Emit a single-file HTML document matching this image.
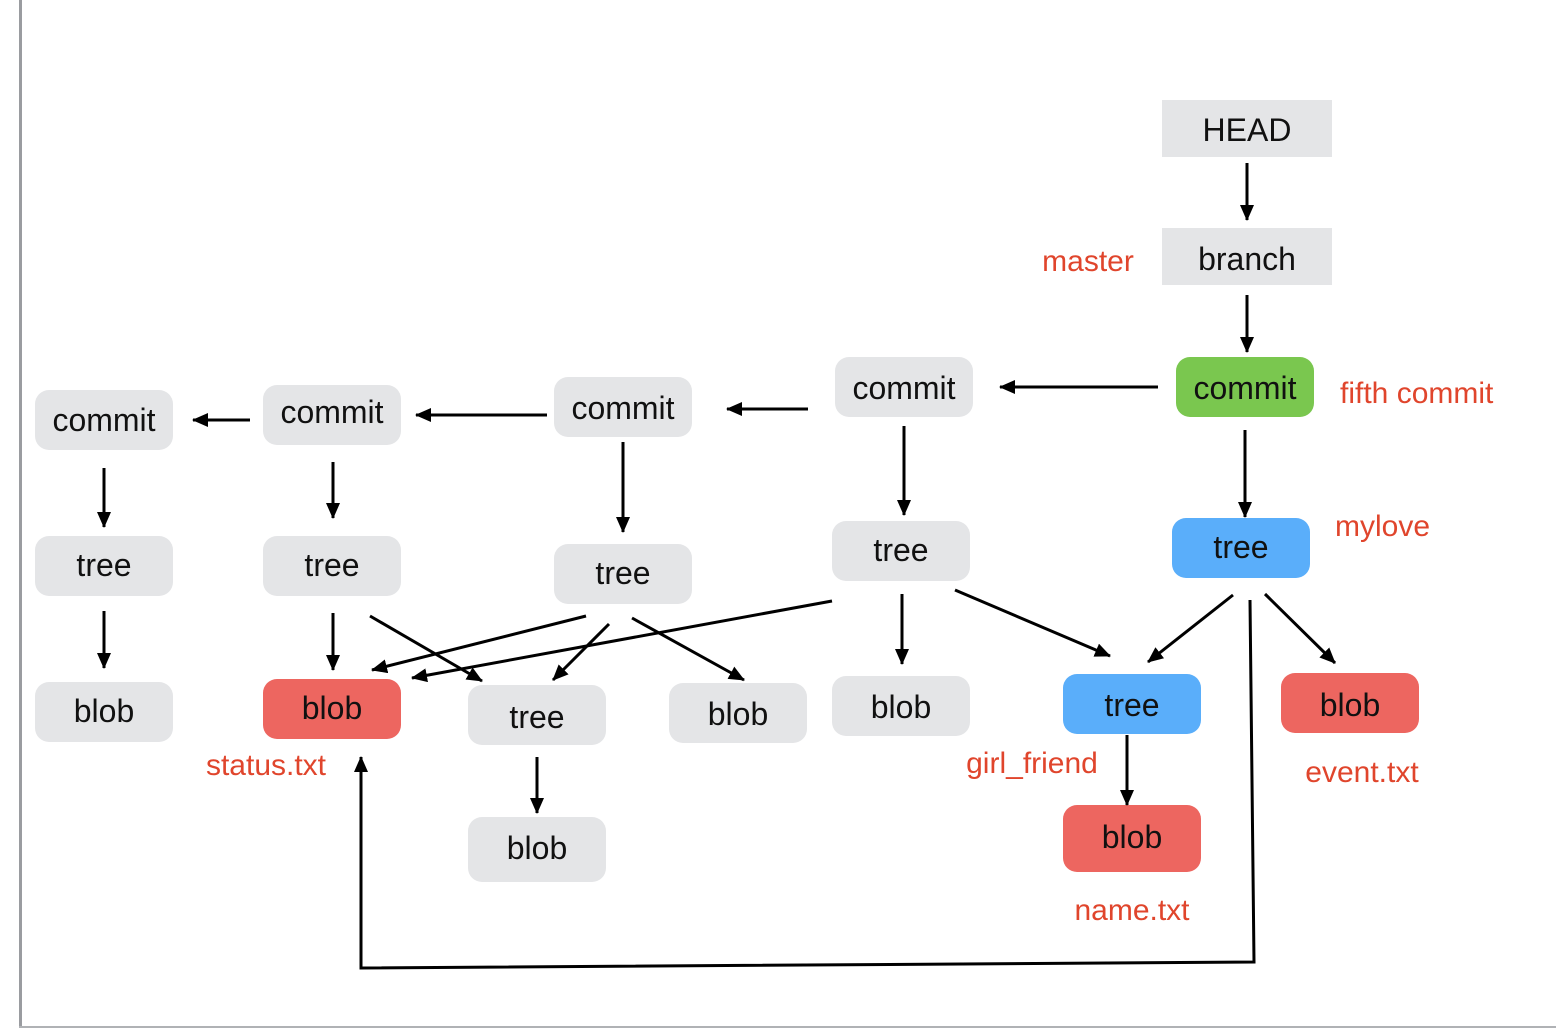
<!DOCTYPE html>
<html><head><style>
html,body{margin:0;padding:0;background:#fff;}
svg{display:block;}
text{font-family:"Liberation Sans",sans-serif;}
</style></head><body>
<svg width="1556" height="1028" viewBox="0 0 1556 1028" xmlns="http://www.w3.org/2000/svg">
<defs>
<marker id="a" markerWidth="16" markerHeight="14" refX="15" refY="7" orient="auto" markerUnits="userSpaceOnUse" viewBox="0 0 16 14">
<path d="M0,0 L16,7 L0,14 z" fill="#000"/></marker>
</defs>
<rect x="0" y="0" width="1556" height="1028" fill="#fff"/>
<rect x="19" y="0" width="3" height="1028" fill="#9a9ca0"/>
<rect x="19" y="1026" width="1537" height="2" fill="#b0b2b5"/>
<g fill="#e4e5e7">
<rect x="1162" y="100" width="170" height="57"/>
<rect x="1162" y="228" width="170" height="57"/>
<rect x="835" y="357" width="138" height="60" rx="14"/>
<rect x="554" y="377" width="138" height="60" rx="14"/>
<rect x="263" y="385" width="138" height="60" rx="14"/>
<rect x="35" y="390" width="138" height="60" rx="14"/>
<rect x="35" y="536" width="138" height="60" rx="14"/>
<rect x="263" y="536" width="138" height="60" rx="14"/>
<rect x="554" y="544" width="138" height="60" rx="14"/>
<rect x="832" y="521" width="138" height="60" rx="14"/>
<rect x="35" y="682" width="138" height="60" rx="14"/>
<rect x="468" y="685" width="138" height="60" rx="14"/>
<rect x="669" y="683" width="138" height="60" rx="14"/>
<rect x="832" y="676" width="138" height="60" rx="14"/>
<rect x="468" y="817" width="138" height="65" rx="14"/>
</g>
<rect x="1176" y="357" width="138" height="60" rx="14" fill="#7ac74f"/>
<rect x="1172" y="518" width="138" height="60" rx="14" fill="#5aaefa"/>
<rect x="1063" y="674" width="138" height="60" rx="14" fill="#5aaefa"/>
<g fill="#ed6660">
<rect x="263" y="679" width="138" height="60" rx="14"/>
<rect x="1281" y="673" width="138" height="60" rx="14"/>
<rect x="1063" y="805" width="138" height="67" rx="14"/>
</g>
<g font-size="32" fill="#111" text-anchor="middle">
<text x="1247" y="141">HEAD</text>
<text x="1247" y="270">branch</text>
<text x="1245" y="399">commit</text>
<text x="904" y="399">commit</text>
<text x="623" y="419">commit</text>
<text x="332" y="423">commit</text>
<text x="104" y="431">commit</text>
<text x="104" y="576">tree</text>
<text x="332" y="576">tree</text>
<text x="623" y="584">tree</text>
<text x="901" y="561">tree</text>
<text x="1241" y="558">tree</text>
<text x="104" y="722">blob</text>
<text x="332" y="719">blob</text>
<text x="537" y="728">tree</text>
<text x="738" y="725">blob</text>
<text x="901" y="718">blob</text>
<text x="1132" y="716">tree</text>
<text x="1350" y="716">blob</text>
<text x="537" y="859">blob</text>
<text x="1132" y="848">blob</text>
</g>
<g font-size="30" fill="#e0452c">
<text x="1088" y="271" text-anchor="middle">master</text>
<text x="1340" y="403">fifth commit</text>
<text x="1335" y="536">mylove</text>
<text x="266" y="775" text-anchor="middle">status.txt</text>
<text x="1032" y="773" text-anchor="middle">girl_friend</text>
<text x="1362" y="782" text-anchor="middle">event.txt</text>
<text x="1132" y="920" text-anchor="middle">name.txt</text>
</g>
<g stroke="#000" stroke-width="3" fill="none" marker-end="url(#a)">
<line x1="1247" y1="163" x2="1247" y2="220"/>
<line x1="1247" y1="295" x2="1247" y2="352"/>
<line x1="1158" y1="387" x2="1000" y2="387"/>
<line x1="808" y1="409" x2="727" y2="409"/>
<line x1="547" y1="415" x2="416" y2="415"/>
<line x1="250" y1="420" x2="193" y2="420"/>
<line x1="104" y1="468" x2="104" y2="527"/>
<line x1="104" y1="611" x2="104" y2="668"/>
<line x1="333" y1="462" x2="333" y2="518"/>
<line x1="333" y1="613" x2="333" y2="670"/>
<line x1="370" y1="616" x2="482" y2="681"/>
<line x1="623" y1="442" x2="623" y2="532"/>
<line x1="586" y1="616" x2="372" y2="670"/>
<line x1="609" y1="624" x2="553" y2="680"/>
<line x1="632" y1="618" x2="744" y2="680"/>
<line x1="537" y1="757" x2="537" y2="813"/>
<line x1="904" y1="426" x2="904" y2="515"/>
<line x1="832" y1="601" x2="412" y2="678"/>
<line x1="902" y1="594" x2="902" y2="664"/>
<line x1="955" y1="590" x2="1110" y2="656"/>
<line x1="1245" y1="430" x2="1245" y2="517"/>
<line x1="1233" y1="595" x2="1148" y2="662"/>
<line x1="1265" y1="594" x2="1335" y2="663"/>
<line x1="1127" y1="735" x2="1127" y2="805"/>
<polyline points="1250,600 1254,962 361,968 361,757"/>
</g>
</svg>
</body></html>
